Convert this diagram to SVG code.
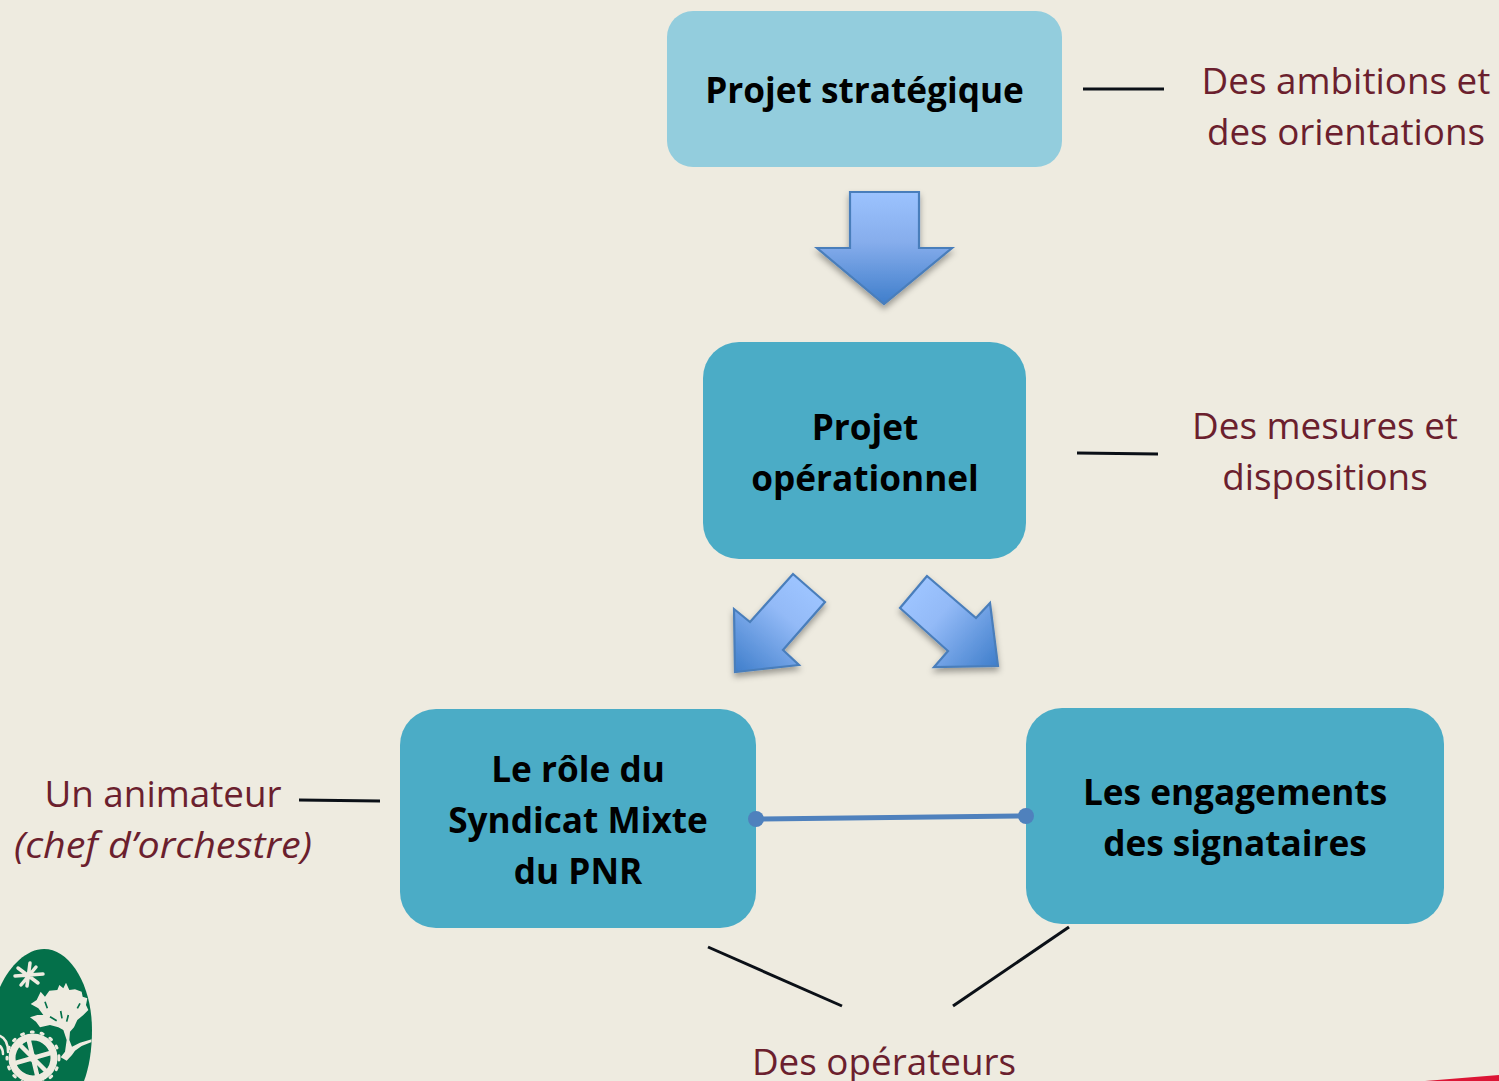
<svg xmlns="http://www.w3.org/2000/svg" width="1499" height="1081" viewBox="0 0 1499 1081">
<style>
text{font-family:"Open Sans","Noto Sans","Liberation Sans",sans-serif;text-anchor:middle}
.b{font-weight:700;fill:#000;font-size:35.2px}
.r{fill:#6b1f2e;font-size:36.8px}
.line{stroke:#0b1017;stroke-width:3;fill:none}
.arrow{stroke:#4a7ebb;stroke-width:2.2;filter:url(#sh);stroke-linejoin:miter}
.lf{fill:#eeebe0}
.ls{fill:none;stroke:#eeebe0;stroke-linecap:round;stroke-linejoin:round}
</style>
<defs>
<linearGradient id="gd" x1="0" y1="0" x2="0" y2="1"><stop offset="0" stop-color="#9cc3fe"/><stop offset=".45" stop-color="#86adec"/><stop offset="1" stop-color="#3f7ecb"/></linearGradient>
<linearGradient id="gl" gradientUnits="userSpaceOnUse" x1="805" y1="590" x2="735" y2="672"><stop offset="0" stop-color="#9cc3fe"/><stop offset=".3" stop-color="#93baf7"/><stop offset="1" stop-color="#3f7ecb"/></linearGradient>
<linearGradient id="gr" gradientUnits="userSpaceOnUse" x1="915" y1="595" x2="998" y2="665"><stop offset="0" stop-color="#9cc3fe"/><stop offset=".3" stop-color="#93baf7"/><stop offset="1" stop-color="#3f7ecb"/></linearGradient>
<filter id="sh" x="-20%" y="-20%" width="140%" height="140%"><feDropShadow dx="0" dy="4" stdDeviation="3" flood-color="#000" flood-opacity=".35"/></filter>
<clipPath id="egg"><path d="M44 949C70 949 92 985 92 1030C92 1050 89 1068 84 1081H0V987C10 965 27 949 44 949Z"/></clipPath>
</defs>
<rect width="1499" height="1081" fill="#eeebe0"/>
<polygon points="1425,1081 1499,1075 1499,1081" fill="#dc1535"/>
<g id="logo">
<path d="M44 949C70 949 92 985 92 1030C92 1050 89 1068 84 1081H0V987C10 965 27 949 44 949Z" fill="#04704a"/>
<g clip-path="url(#egg)">
<path class="ls" stroke-width="3.5" d="M30 963L27 986M18 968L38 983M15 976L43 974M21 985L36 967"/>
<g transform="translate(0 940) scale(.33333)">
<polygon class="lf" points="92,192 110,180 122,155 135,170 148,152 172,150 178,135 190,145 198,128 208,150 225,148 245,155 248,170 262,175 258,195 265,210 250,225 232,240 222,262 210,275 208,300 216,320 240,308 275,298 275,306 245,318 225,332 216,345 200,362 182,352 195,335 200,300 190,270 175,262 150,255 120,262 108,245 90,232 112,225 130,225 115,205"/>
<path d="M182 213L186 235M232 205L240 190M150 230L170 242M205 225L200 245M135 185L142 205" stroke="#04704a" stroke-width="5" fill="none"/>
</g>
<circle cx="33" cy="1058" r="21" fill="none" stroke="#eeebe0" stroke-width="7"/>
<path class="ls" stroke-width="4.500" d="M28 1037L38 1079M12 1064L54 1052M18 1043L48 1073"/>
<circle cx="33" cy="1058" r="4" fill="#eeebe0"/>
<circle class="ls" cx="33" cy="1058" r="26" stroke-width="3" stroke-dasharray="2 8"/>
<path class="ls" stroke-width="2.500" d="M0 1036C5 1038 8 1043 8 1052M0 1046C2 1048 3 1050 3 1054"/>
</g>
</g>
<g id="arrow-down"><polygon class="arrow" fill="url(#gd)" points="850,192 919,192 919,248 952,248 884,304 817,248 850,248"/></g>
<g id="arrow-left"><polygon class="arrow" fill="url(#gl)" points="793,574 825,602 783,650 799,665 735,672 734,609 750,622"/></g>
<g id="arrow-right"><polygon class="arrow" fill="url(#gr)" points="927,576 900,608 948,651 934,667 998,666 990,603 976,618"/></g>
<g id="node-strategique">
<rect x="667" y="11" width="395" height="156" rx="26" fill="#93cddd"/>
<text class="b" x="864.500" y="103">Projet stratégique</text>
</g>
<g id="label-ambitions">
<text class="r" x="1346" y="94">Des ambitions et</text>
<text class="r" x="1346" y="145">des orientations</text>
</g>
<g id="node-operationnel">
<rect x="703" y="342" width="323" height="217" rx="36" fill="#4bacc6"/>
<text class="b" x="865" y="440">Projet</text>
<text class="b" x="865" y="491">opérationnel</text>
</g>
<g id="label-mesures">
<text class="r" x="1325" y="439">Des mesures et</text>
<text class="r" x="1325" y="490">dispositions</text>
</g>
<g id="node-syndicat">
<rect x="400" y="709" width="356" height="219" rx="36" fill="#4bacc6"/>
<text class="b" x="578" y="782">Le rôle du</text>
<text class="b" x="578" y="833">Syndicat Mixte</text>
<text class="b" x="578" y="884">du PNR</text>
</g>
<g id="node-engagements">
<rect x="1026" y="708" width="418" height="216" rx="36" fill="#4bacc6"/>
<text class="b" x="1235" y="805">Les engagements</text>
<text class="b" x="1235" y="856">des signataires</text>
</g>
<g id="label-animateur">
<text class="r" x="163" y="807">Un animateur</text>
<text class="r" x="163" y="858" font-style="italic" textLength="298" lengthAdjust="spacingAndGlyphs">(chef d’orchestre)</text>
</g>
<g id="label-operateurs"><text class="r" x="884" y="1075">Des opérateurs</text></g>
<g id="connectors">
<path class="line" d="M1083 89L1164 89"/>
<path class="line" d="M1077 453L1158 454"/>
<path class="line" d="M299 800L380 801"/>
<path class="line" d="M708 947L842 1006"/>
<path class="line" d="M1069 927L953 1006"/>
<path d="M756 819L1026 816" stroke="#4f81bd" stroke-width="5" fill="none"/>
<circle cx="756" cy="819" r="8" fill="#4f81bd"/>
<circle cx="1026" cy="816" r="8" fill="#4f81bd"/>
</g>
</svg>
